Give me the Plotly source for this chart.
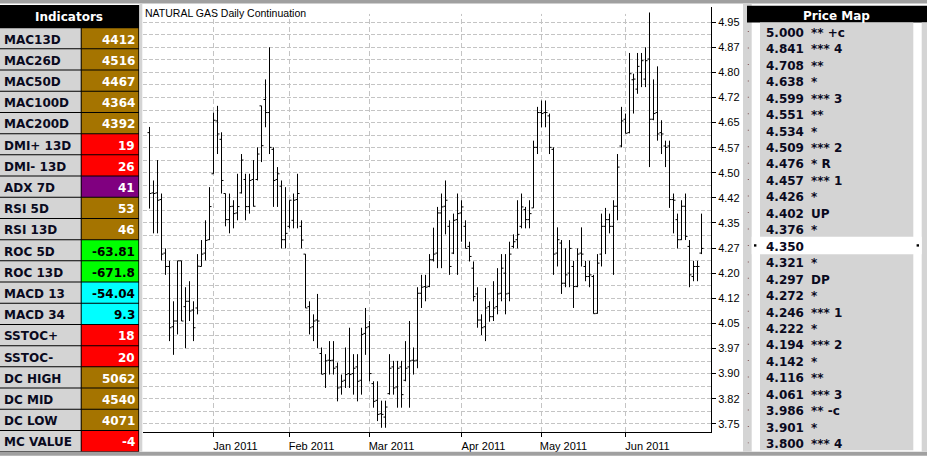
import plotly.graph_objects as go

# ---------------- data ----------------
opens = [4.62, 4.44, 4.44, 4.42, 4.26, 4.22, 4.04, 4.057, 4.237, 4.10,
         4.116, 4.09, 4.096, 4.22, 4.26, 4.30, 4.497, 4.655, 4.60, 4.438,
         4.36, 4.40, 4.38, 4.44, 4.48, 4.399, 4.48, 4.48, 4.70, 4.719,
         4.68, 4.57, 4.48, 4.46, 4.30, 4.34, 4.358, 4.42, 4.34, 4.257,
         4.10, 4.04, 4.06, 3.96, 3.90, 3.94, 3.94, 3.92, 3.86, 3.88,
         3.90, 3.90, 3.92, 3.88, 4.02, 4.04, 3.87, 3.82, 3.78, 3.77,
         3.84, 3.92, 3.86, 3.92, 3.88, 3.92, 3.94, 3.94, 4.14, 4.16,
         4.16, 4.24, 4.26, 4.38, 4.40, 4.34, 4.26, 4.36, 4.38, 4.34,
         4.28, 4.215, 4.138, 4.06, 4.04, 4.10, 4.07, 4.10, 4.14, 4.20,
         4.14, 4.28, 4.30, 4.34, 4.39, 4.36, 4.395, 4.576, 4.68, 4.68,
         4.67, 4.57, 4.26, 4.29, 4.17, 4.20, 4.22, 4.16, 4.26, 4.22,
         4.19, 4.19, 4.08, 4.257, 4.34, 4.36, 4.34, 4.40, 4.58, 4.66,
         4.62, 4.778, 4.75, 4.80, 4.78, 4.84, 4.66, 4.68, 4.62, 4.58,
         4.58, 4.42, 4.36, 4.30, 4.40, 4.28, 4.19, 4.22, 4.26]
highs = [4.637, 4.477, 4.538, 4.438, 4.274, 4.237, 4.116, 4.237, 4.237, 4.158,
         4.176, 4.116, 4.257, 4.299, 4.358, 4.457, 4.680, 4.700, 4.621, 4.438,
         4.438, 4.418, 4.497, 4.556, 4.497, 4.497, 4.538, 4.576, 4.700, 4.779,
         4.875, 4.576, 4.517, 4.477, 4.457, 4.418, 4.438, 4.497, 4.358, 4.257,
         4.116, 4.077, 4.138, 3.978, 3.958, 3.997, 3.997, 3.933, 3.897, 3.978,
         4.037, 3.958, 3.958, 4.037, 4.096, 4.057, 3.877, 3.877, 3.819, 3.819,
         3.958, 3.938, 3.938, 3.938, 3.997, 4.057, 3.978, 4.158, 4.195, 4.195,
         4.257, 4.336, 4.398, 4.438, 4.477, 4.358, 4.378, 4.438, 4.418, 4.358,
         4.294, 4.235, 4.158, 4.077, 4.156, 4.116, 4.176, 4.215, 4.257, 4.257,
         4.294, 4.316, 4.418, 4.438, 4.398, 4.418, 4.596, 4.697, 4.716, 4.716,
         4.677, 4.576, 4.337, 4.299, 4.274, 4.299, 4.237, 4.274, 4.337, 4.237,
         4.237, 4.195, 4.257, 4.378, 4.395, 4.378, 4.418, 4.556, 4.697, 4.677,
         4.858, 4.796, 4.858, 4.858, 4.875, 4.979, 4.779, 4.818, 4.657, 4.596,
         4.596, 4.438, 4.378, 4.418, 4.438, 4.299, 4.237, 4.237, 4.378]
lows = [4.393, 4.319, 4.319, 4.238, 4.195, 3.997, 3.956, 4.017, 4.057, 3.976,
        4.057, 3.997, 4.077, 4.220, 4.238, 4.299, 4.497, 4.556, 4.438, 4.340,
        4.319, 4.334, 4.358, 4.438, 4.358, 4.378, 4.399, 4.477, 4.532, 4.636,
        4.556, 4.398, 4.398, 4.274, 4.274, 4.334, 4.334, 4.334, 4.274, 4.096,
        4.017, 3.997, 3.976, 3.898, 3.857, 3.897, 3.897, 3.817, 3.837, 3.857,
        3.857, 3.837, 3.817, 3.837, 3.956, 3.877, 3.798, 3.758, 3.738, 3.738,
        3.837, 3.837, 3.798, 3.798, 3.877, 3.798, 3.897, 3.916, 4.096, 4.116,
        4.158, 4.235, 4.215, 4.215, 4.316, 4.195, 4.257, 4.195, 4.294, 4.274,
        4.235, 4.116, 4.037, 4.015, 3.997, 4.055, 4.057, 4.077, 4.116, 4.077,
        4.116, 4.274, 4.274, 4.334, 4.334, 4.334, 4.395, 4.556, 4.636, 4.636,
        4.556, 4.195, 4.220, 4.138, 4.158, 4.158, 4.096, 4.158, 4.220, 4.176,
        4.158, 4.079, 4.079, 4.220, 4.257, 4.319, 4.195, 4.358, 4.576, 4.618,
        4.618, 4.677, 4.736, 4.756, 4.756, 4.517, 4.657, 4.596, 4.556, 4.517,
        4.395, 4.319, 4.274, 4.299, 4.299, 4.158, 4.176, 4.176, 4.257]
closes = [4.438, 4.438, 4.418, 4.257, 4.220, 4.037, 4.057, 4.237, 4.057, 4.116,
          4.087, 4.037, 4.221, 4.257, 4.298, 4.399, 4.657, 4.616, 4.477, 4.36,
          4.399, 4.378, 4.399, 4.538, 4.399, 4.477, 4.40, 4.556, 4.581, 4.680,
          4.576, 4.477, 4.497, 4.30, 4.319, 4.418, 4.418, 4.438, 4.299, 4.096,
          4.037, 4.057, 4.057, 3.898, 3.938, 3.939, 3.916, 3.857, 3.877, 3.897,
          3.897, 3.916, 3.877, 4.017, 4.037, 3.90, 3.817, 3.778, 3.778, 3.80,
          3.916, 3.857, 3.916, 3.837, 3.916, 3.938, 3.938, 4.14, 4.158, 4.158,
          4.24, 4.257, 4.38, 4.398, 4.418, 4.22, 4.358, 4.378, 4.398, 4.274,
          4.25, 4.13, 4.06, 4.037, 4.096, 4.07, 4.096, 4.138, 4.215, 4.138,
          4.257, 4.294, 4.316, 4.398, 4.36, 4.378, 4.576, 4.68, 4.677, 4.68,
          4.576, 4.257, 4.30, 4.17, 4.195, 4.274, 4.16, 4.257, 4.257, 4.19,
          4.195, 4.079, 4.23, 4.34, 4.36, 4.34, 4.40, 4.517, 4.655, 4.618,
          4.796, 4.78, 4.818, 4.835, 4.835, 4.66, 4.677, 4.616, 4.616, 4.576,
          4.42, 4.418, 4.30, 4.40, 4.31, 4.195, 4.220, 4.220, 4.274]
bar_index = list(range(len(opens)))

month_labels = ["Jan 2011", "Feb 2011", "Mar 2011", "Apr 2011", "May 2011", "Jun 2011"]
month_bar_index = [16, 35, 55, 78, 98, 119]

ytick_vals = [3.75, 3.825, 3.9, 3.975, 4.05, 4.125, 4.2, 4.275, 4.35,
              4.425, 4.5, 4.575, 4.65, 4.725, 4.8, 4.875, 4.95]
ytick_text = ["3.75", "3.82", "3.90", "3.97", "4.05", "4.12", "4.20", "4.27", "4.35",
              "4.42", "4.50", "4.57", "4.65", "4.72", "4.80", "4.87", "4.95"]

chart_title = "NATURAL GAS Daily Continuation"

ind_names = ["MAC13D", "MAC26D", "MAC50D", "MAC100D", "MAC200D", "DMI+ 13D", "DMI- 13D",
             "ADX 7D", "RSI 5D", "RSI 13D", "ROC 5D", "ROC 13D", "MACD 13", "MACD 34",
             "SSTOC+", "SSTOC-", "DC HIGH", "DC MID", "DC LOW", "MC VALUE"]
ind_values = ["4412", "4516", "4467", "4364", "4392", "19", "26", "41", "53", "46",
              "-63.81", "-671.8", "-54.04", "9.3", "18", "20", "5062", "4540", "4071", "-4"]

pm_levels = ["5.000", "4.841", "4.708", "4.638", "4.599", "4.551", "4.534", "4.509",
             "4.476", "4.457", "4.426", "4.402", "4.376", "4.350", "4.321", "4.297",
             "4.272", "4.246", "4.222", "4.194", "4.142", "4.116", "4.061", "3.986",
             "3.901", "3.800"]
pm_marks = ["** +c", "*** 4", "**", "*", "*** 3", "**", "*", "*** 2", "* R", "*** 1",
            "*", "UP", "*", "", "*", "DP", "*", "*** 1", "*", "*** 2", "*", "**",
            "*** 3", "** -c", "*", "*** 4"]
pm_current = "4.350"

# ---------------- styles ----------------
BROWN, RED, PURPLE, GREEN, CYAN = "#a57400", "#ff0000", "#800080", "#00ff00", "#00ffff"
ind_cell_colors = [BROWN] * 5 + [RED, RED, PURPLE, BROWN, BROWN, GREEN, GREEN, CYAN, CYAN,
                                 RED, RED, BROWN, BROWN, BROWN, RED]
LIGHT = "#d4d4d4"
GRID = "#c4c4c4"

W, H = 927, 459
ML, MR, MT, MB = 143, 216, 7, 24
PW, PH = W - ML - MR, H - MT - MB
x_range = [-1.625, 140.375]
y_range = [3.7254, 4.9954]
grid_top = 4.9747
TXT_DY = 1.3  # visual centring of annotation text


def fx(x):
    return (x - ML) / PW


def fy(y):
    return (H - MB - y) / PH


shapes = []
annotations = []


def rect(x0, y0, x1, y1, color):
    shapes.append(dict(type="rect", xref="paper", yref="paper",
                       x0=fx(x0), x1=fx(x1), y0=fy(y1), y1=fy(y0),
                       fillcolor=color, line=dict(width=0), layer="above"))


def text(x, y, s, anchor="left", color="black", size=12, family="DejaVu Sans", bold=True):
    annotations.append(dict(xref="paper", yref="paper", x=fx(x), y=fy(y + TXT_DY), text=s,
                            showarrow=False, xanchor=anchor, yanchor="middle",
                            font=dict(family=family, size=size, color=color,
                                      weight="bold" if bold else "normal")))


# frame
rect(0, 0, W, 3.5, "#a0a0a0")
rect(0, 455, W, H, "#a0a0a0")

# indicators panel
rect(0, 5, 139.3, 455, "black")
text(69, 16.2, "Indicators", anchor="center", color="white")
row_top0, row_h = 27.3, 21.35
for k, (name, val, col) in enumerate(zip(ind_names, ind_values, ind_cell_colors)):
    t = row_top0 + k * row_h
    b = t + row_h
    rect(0, t + 1, 80.7, b, LIGHT)
    rect(81.7, t + 1, 138.3, b, col)
    tc = "black" if col in (GREEN, CYAN) else "white"
    yc = t + 0.5 + row_h / 2
    text(1.5, yc, name, color="#0a0a1e")
    text(137.3, yc, val, anchor="right", color=tc)
rect(139.5, 3.5, 142.3, 455, LIGHT)

# price map panel
rect(743, 3.5, 751.7, 455, LIGHT)
rect(747, 5.7, W, 22.7, "black")
rect(921.7, 22.7, W, 455, LIGHT)
rect(760, 22.7, 913.3, 453.3, LIGHT)
text(836, 14.4, "Price Map", anchor="center", color="white")
pm_y0, pm_dy = 31.7, 16.57
for k, (lev, mark) in enumerate(zip(pm_levels, pm_marks)):
    yc = pm_y0 + k * pm_dy
    if lev == pm_current:
        rect(751.7, yc - 8.8, 921.7, yc + 8.8, "white")
        rect(754, yc - 1.2, 756.4, yc + 1.2, "black")
        rect(916.6, yc - 1.2, 919, yc + 1.2, "black")
    rect(747.8, yc - 0.5, 748.8, yc + 0.5, "#7a4a4a")
    text(764, yc, lev, color="#0a0a1e")
    if mark:
        text(809, yc, mark, color="#0a0a1e")

# chart title
text(142.5, 11.5, chart_title, family="Liberation Sans, Arial", size=10.5, bold=False)

# vertical month gridlines
for m in month_bar_index:
    shapes.append(dict(type="line", xref="x", yref="y", x0=m, x1=m,
                       y0=y_range[0], y1=grid_top,
                       line=dict(color=GRID, width=1, dash="5px,3px"), layer="below"))

minor_vals = [(a + b) / 2 for a, b in zip(ytick_vals[:-1], ytick_vals[1:])]

fig = go.Figure(go.Ohlc(
    x=bar_index, open=opens, high=highs, low=lows, close=closes,
    increasing=dict(line=dict(color="black", width=1)),
    decreasing=dict(line=dict(color="black", width=1)),
    tickwidth=0.5, hoverinfo="skip"))

axis_font = dict(family="Liberation Sans, Arial", size=11, color="black")
fig.update_layout(
    width=W, height=H, showlegend=False,
    paper_bgcolor="white", plot_bgcolor="white",
    margin=dict(l=ML, r=MR, t=MT, b=MB, pad=0),
    xaxis=dict(range=x_range, tickmode="array", tickvals=month_bar_index, ticktext=month_labels,
               ticks="outside", ticklen=4, tickcolor="black", tickwidth=1,
               showline=True, linecolor="black", linewidth=1, showgrid=False, zeroline=False,
               rangeslider=dict(visible=False), tickfont=axis_font, ticklabelshift=22),
    yaxis=dict(side="right", range=y_range, tickmode="array", tickvals=ytick_vals, ticktext=ytick_text,
               ticks="outside", ticklen=4, tickcolor="black", tickwidth=1,
               showline=True, linecolor="black", linewidth=1, zeroline=False,
               showgrid=True, gridcolor=GRID, gridwidth=1, griddash="4px,2px",
               minor=dict(tickvals=minor_vals, showgrid=True, gridcolor=GRID, gridwidth=1,
                          griddash="4px,2px", ticks=""),
               tickfont=axis_font),
    shapes=shapes, annotations=annotations,
)

fig.write_html("out.html", config={"displayModeBar": False},
               post_script="document.body.style.margin='0';document.body.style.overflow='hidden';")
